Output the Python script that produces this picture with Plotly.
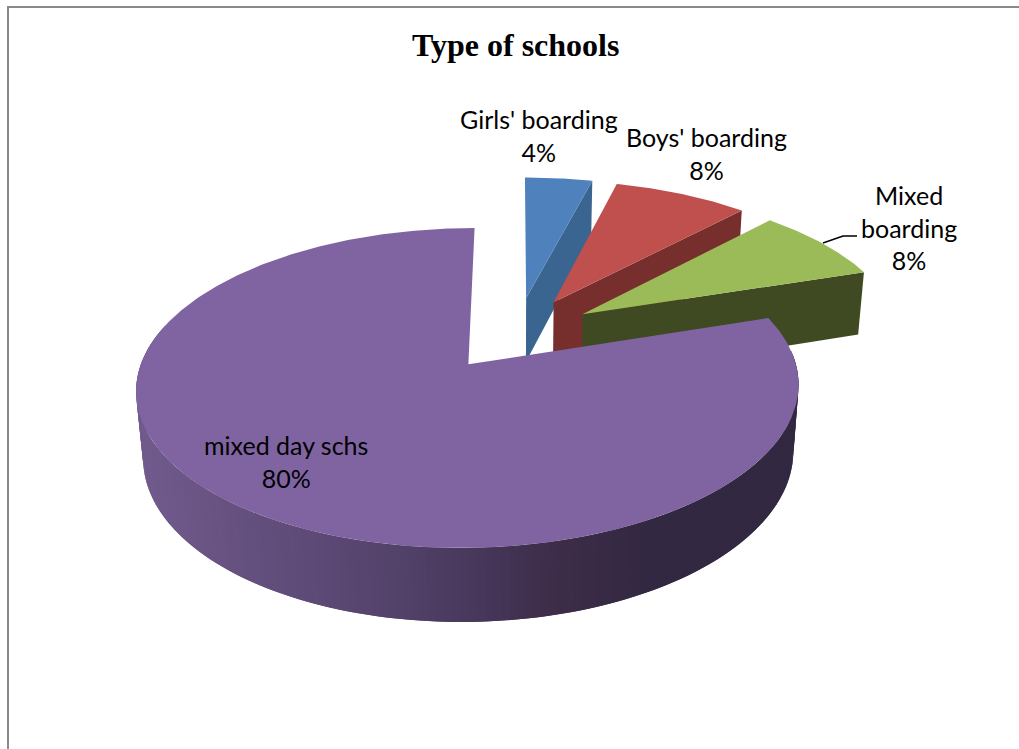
import numpy as np
import plotly.graph_objects as go

# --- data ---
categories = ["Girls' boarding", "Boys' boarding", "Mixed boarding", "mixed day schs"]
values = [4, 8, 8, 80]
label_text = ["Girls' boarding<br>4%", "Boys' boarding<br>8%", "Mixed<br>boarding<br>8%", "mixed day schs<br>80%"]
top_colors = ["#4f81bd", "#c0504d", "#9bbb59", "#8064a2"]
wall_colors = ["#3b6591", "#772f2e", "#3f4a22", "#33283f"]
title_text = "Type of schools"

# --- projection of a tilted, exploded pie on to the page ---
EXPLODE, PERSP, DROP = 0.25, 0.1438, 0.018
CX, CY, AX, BY, DEPTH = 516.5, 333.6, 318.0, 147.5, 65.0
W, H = 1019, 749


def project(theta, share_mid, r=1.0, h=0.0):
    u = r * np.sin(theta) + EXPLODE * np.sin(share_mid)
    v = r * np.cos(theta) + EXPLODE * np.cos(share_mid)
    w = 1 + PERSP * v
    return CX + AX * u / (w + DROP * h), CY - BY * v / w + DEPTH * h / w ** 0.68


def poly(fig, xs, ys, color):
    fig.add_trace(go.Scatter(x=xs, y=ys, mode="lines", fill="toself", fillcolor=color,
                             line=dict(color=color, width=0), hoverinfo="skip", showlegend=False))


def rim_color(x):
    stops_x = [145, 370, 470, 560, 650, 800]
    r = np.interp(x, stops_x, [112, 86, 72, 60, 51, 51])
    g = np.interp(x, stops_x, [90, 68, 56, 44, 40, 40])
    b = np.interp(x, stops_x, [140, 110, 92, 72, 65, 65])
    return f"rgb({r:.0f},{g:.0f},{b:.0f})"


fig = go.Figure()
edges = np.radians(np.concatenate([[0], np.cumsum(values)]) * 3.6)
for i, val in enumerate(values):
    a0, a1 = edges[i], edges[i + 1]
    mid = (a0 + a1) / 2
    if val < 50:
        xa, ya = project(a1, mid, r=0.0)
        xb, yb = project(a1, mid, r=0.0, h=1.0)
        xc, yc = project(a1, mid, h=1.0)
        xd, yd = project(a1, mid)
        poly(fig, [xa, xb, xc, xd, xa], [ya, yb, yc, yd, ya], wall_colors[i])
    else:
        ts = np.linspace(np.radians(85), np.radians(285), 161)
        # each band overlaps the next one so that no seam shows between them
        for t0, t1, t2 in zip(ts[:-2], ts[1:-1], ts[2:]):
            seg = np.array([t0, t1, t2])
            x1, y1 = project(seg, mid)
            x2, y2 = project(seg[::-1], mid, h=1.0)
            poly(fig, np.r_[x1, x2, x1[0]], np.r_[y1, y2, y1[0]], rim_color(x1[:2].mean()))
    t = np.linspace(a0, a1, max(int(val * 6), 12))
    xo, yo = project(t, mid)
    xa, ya = project(np.array([a0]), mid, r=0.0)
    poly(fig, np.r_[xa, xo, xa], np.r_[ya, yo, ya], top_colors[i])

# leader line of the "Mixed boarding" label
fig.add_trace(go.Scatter(x=[823, 843, 857], y=[243, 236, 236], mode="lines",
                         line=dict(color="black", width=1.5), hoverinfo="skip", showlegend=False))

label_pos = [(539, 135), (706, 153), (909, 227), (286, 461)]
for txt, (lx, ly) in zip(label_text, label_pos):
    fig.add_annotation(x=lx, y=ly, text=txt, showarrow=False, xanchor="center", yanchor="middle",
                       font=dict(family="Lato, Carlito, sans-serif", size=25, color="black"), align="center")

fig.add_annotation(x=515, y=45, text=f"<b>{title_text}</b>", showarrow=False, xanchor="center", yanchor="middle",
                   font=dict(family="Liberation Serif", size=32, color="black"))

# chart frame
fig.add_trace(go.Scatter(x=[8, 8, W], y=[H, 7, 7], mode="lines",
                         line=dict(color="#898989", width=2), hoverinfo="skip", showlegend=False))

fig.update_layout(width=W, height=H, margin=dict(l=0, r=0, t=0, b=0), paper_bgcolor="white",
                  plot_bgcolor="white", showlegend=False,
                  xaxis=dict(range=[0, W], visible=False, fixedrange=True),
                  yaxis=dict(range=[H, 0], visible=False, fixedrange=True))
fig.write_html("out.html", config={"displayModeBar": False},
               post_script="document.body.style.margin='0';document.documentElement.style.overflow='hidden';")
